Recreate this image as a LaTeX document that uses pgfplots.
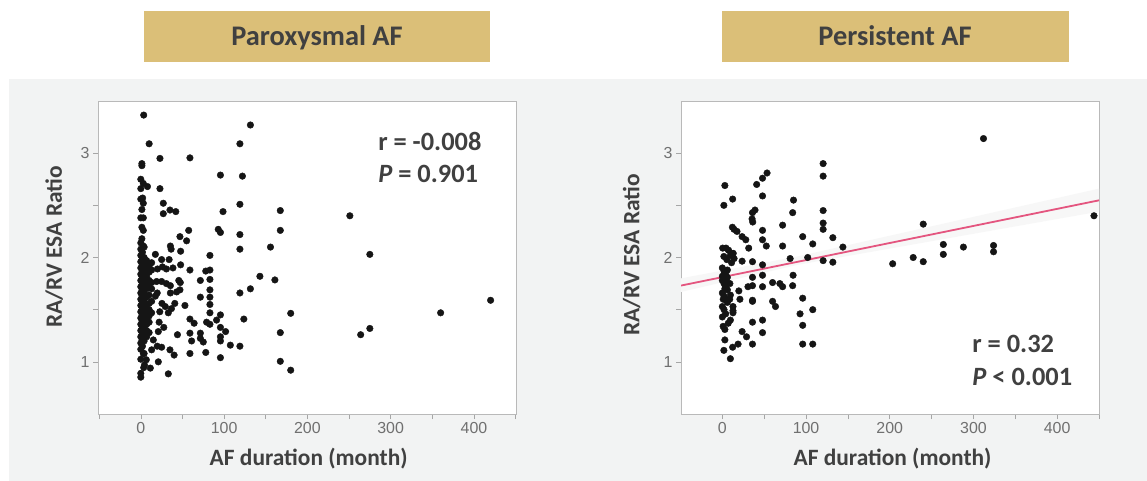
\documentclass[border=0pt]{standalone}
\usepackage{pgfplots}
\pgfplotsset{compat=1.18}
\usepackage{fontspec}
\setmainfont{Carlito}
\newfontfamily\tickfont{Liberation Sans}
\definecolor{tanbox}{HTML}{DBBF78}
\definecolor{panel}{HTML}{F2F3F3}
\definecolor{txt}{HTML}{404040}
\definecolor{ticktxt}{HTML}{707070}
\definecolor{fitline}{HTML}{E4557F}
\definecolor{dot}{HTML}{151515}

\pgfplotsset{
 myaxis/.style={
  scale only axis, width=418bp, height=313bp,
  ymin=0.5, ymax=3.5,
  xtick={0,100,200,300,400}, minor xtick={-50,50,150,250,350,450},
  ytick={1,2,3}, minor ytick={1.5,2.5},
  xtick pos=bottom, ytick pos=left,
  tick align=outside, major tick length=5bp, minor tick length=5bp,
  tick style={color=gray!70, line width=0.6bp},
  axis line style={color=gray!55, line width=0.8bp},
  axis background/.style={fill=white},
  /pgf/number format/assume math mode=true,
  ticklabel style={font=\tickfont\fontsize{16}{16}\selectfont, text=ticktxt},
  label style={font=\bfseries\fontsize{23.5}{24}\selectfont, text=txt},
  xlabel={AF duration (month)}, ylabel={RA/RV ESA Ratio},
 },
 dots/.style={only marks, mark=*, mark size=3.3bp, color=dot, mark options={draw=dot, fill=dot}},
}

\begin{document}
\begin{tikzpicture}
\fill[white] (0,0) rectangle (1147bp,-481bp);
\fill[panel] (9bp,-79bp) rectangle (1147bp,-481bp);
\fill[tanbox] (144bp,-11bp) rectangle (490bp,-62bp);
\fill[tanbox] (722bp,-11bp) rectangle (1069bp,-62bp);
\node[anchor=base, font=\bfseries\fontsize{28.5}{30}\selectfont, text=txt, inner sep=0pt] at (317bp,-45.7bp) {Paroxysmal AF};
\node[anchor=base, font=\bfseries\fontsize{28.5}{30}\selectfont, text=txt, inner sep=0pt] at (895bp,-45.7bp) {Persistent AF};

% ---------------- Paroxysmal ----------------
\begin{axis}[myaxis, at={(98bp,-414bp)}, anchor=south west,
  xmin=-51.4, xmax=450.5,
  ylabel style={at={(axis description cs:-0.105,0.534)}, anchor=center},
  xlabel style={at={(axis description cs:0.504,-0.141)}, anchor=center}]
\addplot[dots] coordinates {
(3.5,3.365)(10,3.09)(23,2.95)(59,2.955)(131.6,3.27)(119,3.09)(95.6,2.79)(122,2.78)
(119,2.51)(167.5,2.45)(251,2.40)(98.7,2.44)(93,2.27)(95.6,2.24)(119,2.22)(167.5,2.26)
(119,2.08)(155.7,2.10)(275,2.03)(143,1.82)(161,1.785)(131.6,1.70)(119,1.66)(420,1.59)
(360,1.47)(180,1.465)(123.7,1.41)(167.5,1.28)(264,1.26)(275,1.32)(107.5,1.16)(119,1.15)
(167.5,1.005)(180,0.92)(95.6,1.04)(33,0.885)(21,1.0)(11.4,0.94)(3.5,0.945)(0,0.853)
(27,2.52)(27,2.42)(23,2.66)(8,2.68)(35,2.455)(42,2.44)(57.5,2.26)(55,2.16)(47,2.20)
(35.5,2.11)(36.4,2.08)(47.8,2.06)(17.5,2.03)(83,2.02)(25,1.98)(34,1.98)(47.8,1.93)
(38.6,1.90)(59,1.88)(78,1.87)(83,1.88)(45.6,1.78)(47.4,1.76)(71.5,1.78)(83,1.79)
(83,1.69)(35.5,1.66)(43,1.67)(47,1.69)(71.5,1.62)(83,1.55)(53,1.54)
(83,1.47)(95.6,1.45)(59,1.41)(64,1.37)(79,1.38)(83,1.36)(91,1.40)(95.6,1.33)
(101.8,1.29)(21,1.29)(44,1.26)(59,1.275)(71.5,1.275)(71.5,1.225)(75,1.19)(61,1.2)
(95.6,1.24)(95.6,1.2)(35,1.115)(40,1.065)(59,1.08)(78,1.09)(83,1.62)
(1.3,2.90)(1.3,2.88)(0,2.75)(3,2.71)(0,2.66)(2.2,2.57)(0,2.56)(3,2.52)(1.3,2.46)
(3,2.38)(0,2.38)(1.3,2.29)(3,2.26)(1.3,2.18)(3,2.11)(0,2.14)
(0,2.08)(0,2.02)(0,1.96)(0,1.90)(0,1.84)(0,1.78)(0,1.72)(0,1.66)(0,1.60)(0,1.54)
(0,1.48)(0,1.42)(0,1.36)(0,1.30)(0,1.24)(0,1.18)(0,1.12)
(2,2.05)(2,1.99)(2,1.93)(2,1.87)(2,1.81)(2,1.75)(2,1.69)(2,1.63)(2,1.57)(2,1.51)
(2,1.45)(2,1.39)(2,1.33)(2,1.27)(2,1.21)(2,1.15)
(4,2.10)(4,2.00)(4,1.94)(4,1.86)(4,1.80)(4,1.74)(4,1.66)(4,1.60)(4,1.52)(4,1.46)
(4,1.40)(4,1.34)(4,1.26)(4,1.20)(4,1.08)
(7,1.97)(7,1.90)(7,1.82)(7,1.76)(7,1.70)(7,1.62)(7,1.55)(7,1.48)(7,1.42)(7,1.36)
(7,1.30)(7,1.24)
(10,1.92)(10,1.86)(10,1.78)(10,1.72)(10,1.64)(10,1.56)(10,1.50)(10,1.44)(10,1.38)
(13,1.95)(13,1.88)(13,1.76)(13,1.70)(13,1.58)(13,1.47)
(20,1.89)(26,1.91)(30.7,1.89)(19,1.77)(25,1.77)(30.7,1.75)(35.5,1.73)(19.7,1.66)
(17.5,1.63)(25.4,1.56)(29.4,1.53)(36.8,1.51)(40.8,1.56)(33,1.47)(22.8,1.48)(22,1.38)
(27.6,1.33)(19.7,1.15)(25,1.14)(13,1.115)(15,1.21)(10,1.28)(6.6,1.02)(0,1.025)
(3,1.08)(4.4,0.97)(0,0.89)
};
\node[anchor=base west, inner sep=0pt, font=\bfseries\fontsize{26.5}{27}\selectfont, text=txt] at (axis cs:284.9,3.022) {r = -0.008};
\node[anchor=base west, inner sep=0pt, font=\bfseries\fontsize{26.5}{27}\selectfont, text=txt] at (axis cs:284.9,2.718) {\textit{P} = 0.901};
\end{axis}

% ---------------- Persistent ----------------
\begin{axis}[myaxis, at={(681bp,-414bp)}, anchor=south west,
  xmin=-49.4, xmax=450,
  ylabel style={at={(axis description cs:-0.118,0.508)}, anchor=center},
  xlabel style={at={(axis description cs:0.506,-0.141)}, anchor=center}]
\addplot[fill=gray!6, draw=none] coordinates {(-49.4,1.67)(90,1.93)(450,2.44)(450,2.66)(90,2.01)(-49.4,1.80)} -- cycle;
\addplot[fitline, line width=1.8bp] coordinates {(-49.4,1.731)(450,2.548)};
\addplot[dots] coordinates {
(312,3.14)(120.4,2.90)(120.4,2.78)(53.4,2.81)(48,2.76)(41,2.70)(48,2.59)(3,2.69)
(1.8,2.50)(12.3,2.56)(85,2.55)(84,2.43)(39,2.455)(36,2.43)(35.5,2.37)(36.3,2.34)
(120.4,2.45)(120.4,2.33)(120.4,2.27)(72,2.31)(240,2.32)(444,2.40)(12,2.29)(14,2.27)
(17.5,2.25)(23.6,2.20)(28,2.17)(48,2.26)(48,2.17)(52.5,2.11)(96,2.20)(108,2.13)
(132,2.19)(144,2.10)(31.5,2.09)(72,2.11)(102,2.00)(81,1.99)(120.4,1.97)(132,1.955)
(203.5,1.94)(228,2.00)(240,1.96)(264,2.125)(264,2.03)(288,2.10)(324,2.115)(324,2.055)
(36,1.96)(23.6,1.965)(48,1.93)(48,1.83)(36,1.81)(84.5,1.83)(84,1.73)(60,1.76)
(68.7,1.75)(72,1.72)(48,1.72)(36,1.73)(30.6,1.72)(19.7,1.68)(21,1.60)(36,1.58)
(36,1.59)(60,1.58)(63.5,1.53)(96,1.61)(92.8,1.46)(108,1.50)(96,1.35)(96,1.17)
(108,1.17)(48,1.40)(48,1.28)(36,1.38)(23.6,1.29)(28.9,1.24)(18.8,1.17)(12.3,1.14)
(36,1.17)(12.7,1.49)(12.7,1.47)(9.6,1.40)(7,1.37)(3,1.21)(1.8,1.11)(9.6,1.03)
(0.9,1.34)(3,1.31)
(0.4,2.09)(4.4,2.09)(7.4,2.07)(10.5,2.04)(13,2.04)(1.8,2.01)(5.3,1.98)(9.6,2.02)(14,1.99)
(0,1.90)(2,1.87)(4,1.84)(6,1.81)(0,1.78)(2,1.75)(4,1.72)(6,1.69)(0,1.66)(2,1.63)
(4,1.60)(6,1.57)(0,1.53)(2,1.50)(4,1.46)(0,1.43)(2,1.84)(0,1.82)(5,1.77)(3,1.70)
(1,1.60)(6,1.88)(9.6,1.64)(8.8,1.60)(12.7,1.53)(9,1.75)(11,1.95)
};
\node[anchor=base west, inner sep=0pt, font=\bfseries\fontsize{26.5}{27}\selectfont, text=txt] at (axis cs:298.5,1.089) {r = 0.32};
\node[anchor=base west, inner sep=0pt, font=\bfseries\fontsize{26.5}{27}\selectfont, text=txt] at (axis cs:298.5,0.772) {\textit{P} < 0.001};
\end{axis}
\end{tikzpicture}
\end{document}
